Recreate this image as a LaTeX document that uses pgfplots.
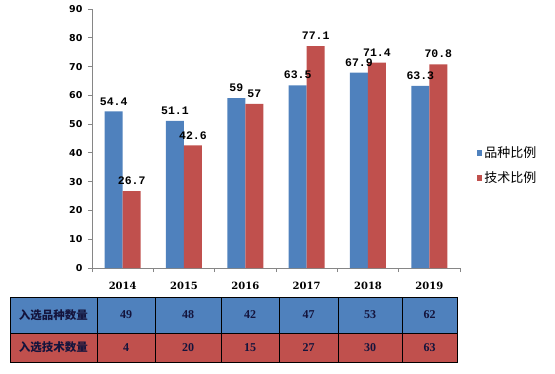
\documentclass[border=0pt]{standalone}
\usepackage{pgfplots}
\pgfplotsset{compat=1.18}
\usepackage{fontspec}
\setmainfont{DejaVu Sans}
\newfontfamily\cjk{Noto Sans CJK SC}
\newfontfamily\monof{Liberation Mono}
\newfontfamily\serifd{DejaVu Serif}
\newfontfamily\tnr{Liberation Serif}
\definecolor{cblue}{HTML}{4F81BD}
\definecolor{cred}{HTML}{C0504D}
\definecolor{axgray}{HTML}{868686}
\definecolor{tabtxt}{HTML}{14143C}
\begin{document}
\begin{tikzpicture}[x=1pt,y=1pt]
\path[use as bounding box] (0,0) rectangle (555,373);
\begin{axis}[
  at={(92pt,105pt)}, anchor=south west,
  scale only axis, width=368pt, height=259pt,
  xmin=-0.5, xmax=5.5, ymin=0, ymax=90,
  ybar=0pt, bar width=18pt,
  axis x line=bottom, axis y line=left,
  axis line style={draw=axgray, line width=0.8pt, -},
  /pgf/number format/assume math mode=true,
  tick align=outside,
  ytick={0,10,...,90},
  major tick length=4pt, minor tick length=4pt,
  ytick style={draw=axgray, line width=0.8pt},
  xtick={0,...,5},
  xticklabels={2014,2015,2016,2017,2018,2019},
  major x tick style={draw=none},
  minor xtick={-0.5,0.5,...,5.5},
  minor x tick style={draw=axgray, line width=0.8pt},
  yticklabel style={font=\bfseries\fontsize{9.5}{10}\selectfont, xshift=-2pt},
  xticklabel style={font=\serifd\bfseries\fontsize{10}{11}\selectfont, yshift=-7pt},
  nodes near coords,
  every node near coord/.append style={font=\monof\bfseries\fontsize{11.5}{12}\selectfont, inner sep=0pt, anchor=south, yshift=6pt, text=black},
  legend style={at={(1.045,0.396)}, anchor=west, draw=none, fill=none,
    font=\cjk\fontsize{13}{14}\selectfont, row sep=9pt, inner sep=0pt,
    /tikz/every even column/.append style={column sep=8pt}},
  legend cell align=left,
  legend image code/.code={\fill[#1] (0pt,-2.8pt) rectangle (5.6pt,2.8pt);},
  clip=false,
]
\addplot[fill=cblue, draw=none] coordinates {(0,54.4) (1,51.1) (2,59) (3,63.5) (4,67.9) (5,63.3)};
\addplot[fill=cred, draw=none] coordinates {(0,26.7) (1,42.6) (2,57) (3,77.1) (4,71.4) (5,70.8)};
\legend{品种比例,技术比例}
\end{axis}
% table
\fill[cblue] (10,40) rectangle (457,76);
\fill[cred] (10,11) rectangle (457,40);
\draw[black, line width=0.9pt] (10,11) rectangle (457,76);
\draw[black, line width=0.9pt] (10,40) -- (457,40);
\foreach \c in {97,155,221,279,338,402} {\draw[black, line width=0.9pt] (\c,11) -- (\c,76);}
\node[text=tabtxt, font=\cjk\bfseries\fontsize{11.5}{12}\selectfont] at (53.5,58) {入选品种数量};
\node[text=tabtxt, font=\cjk\bfseries\fontsize{11.5}{12}\selectfont] at (53.5,25.5) {入选技术数量};
\foreach \x/\a/\b in {126/49/4, 188/48/20, 250/42/15, 308.5/47/27, 370/53/30, 429.5/62/63} {
  \node[text=tabtxt, font=\tnr\bfseries\fontsize{12}{13}\selectfont] at (\x,58) {\a};
  \node[text=tabtxt, font=\tnr\bfseries\fontsize{12}{13}\selectfont] at (\x,25.5) {\b};
}
\end{tikzpicture}
\end{document}
